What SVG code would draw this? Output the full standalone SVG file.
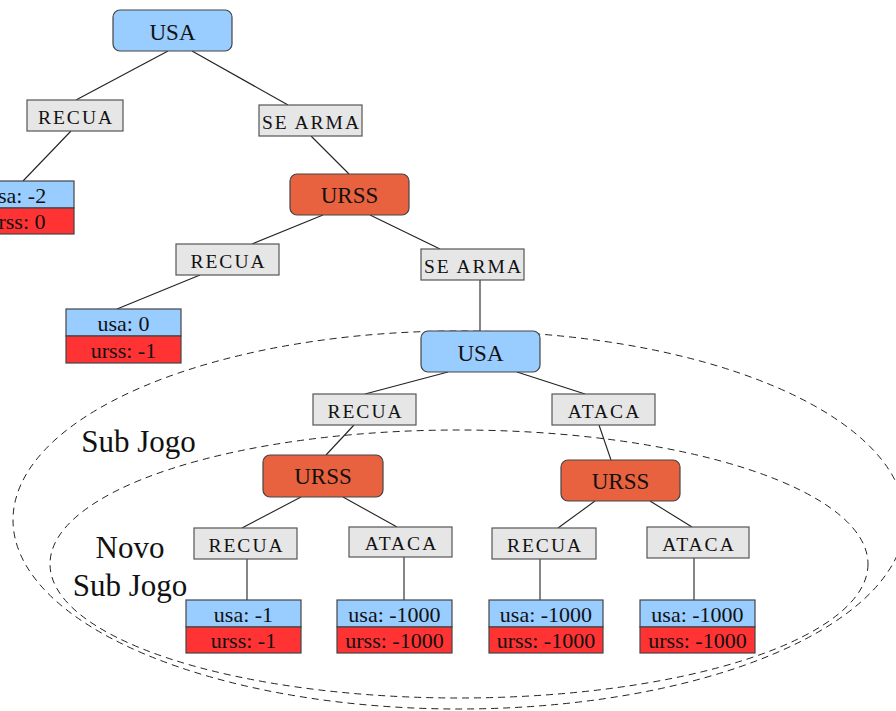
<svg xmlns="http://www.w3.org/2000/svg" width="896" height="711" viewBox="0 0 896 711">
<style>
text{font-family:"Liberation Serif","Times New Roman",serif;fill:#111;text-anchor:middle}
.pl{fill:#99CCFF;stroke:#444;stroke-width:1.2}
.pu{fill:#E9623F;stroke:#444;stroke-width:1.2}
.act{fill:#E6E6E6;stroke:#555;stroke-width:1.2}
.lb{fill:#99CCFF;stroke:#444;stroke-width:1.2}
.lr{fill:#FF3333;stroke:#444;stroke-width:1.2}
.nt{font-size:23px}
.at{font-size:19.5px;letter-spacing:2px}
.vt{font-size:22px}
.big{font-size:31px}
.conn line{stroke:#222;stroke-width:1.1}
.dash{fill:none;stroke:#222;stroke-width:1;stroke-dasharray:7 5}
</style>
<rect width="896" height="711" fill="#fff"/>
<g id="regions">
<ellipse class="dash" cx="459" cy="520" rx="446" ry="189"/>
<ellipse class="dash" cx="459" cy="564" rx="409" ry="134"/>
</g>
<g class="conn" id="connectors">
<line x1="168" y1="51" x2="76" y2="100"/>
<line x1="192" y1="51" x2="288" y2="105"/>
<line x1="71" y1="131" x2="23" y2="181"/>
<line x1="311" y1="136" x2="349" y2="174"/>
<line x1="323" y1="215" x2="252" y2="244"/>
<line x1="370" y1="215" x2="440" y2="249"/>
<line x1="200" y1="275" x2="117" y2="309"/>
<line x1="480" y1="280" x2="480" y2="331"/>
<line x1="448" y1="372" x2="365" y2="394"/>
<line x1="517" y1="372" x2="585" y2="394"/>
<line x1="354" y1="425" x2="326" y2="455"/>
<line x1="599" y1="425" x2="611" y2="460"/>
<line x1="301" y1="497" x2="242" y2="528"/>
<line x1="343" y1="497" x2="397" y2="527"/>
<line x1="595" y1="501" x2="558" y2="528"/>
<line x1="650" y1="501" x2="692" y2="527"/>
<line x1="247" y1="559" x2="247" y2="600"/>
<line x1="404" y1="557" x2="404" y2="600"/>
<line x1="540" y1="559" x2="540" y2="600"/>
<line x1="694" y1="558" x2="694" y2="600"/>
</g>
<g id="usa1"><rect class="pl" x="113" y="10" width="119" height="41" rx="7"/><text class="nt" x="172.5" y="40">USA</text></g>
<g id="recua1"><rect class="act" x="27" y="100" width="96" height="31"/><text class="at" x="76" y="124">RECUA</text></g>
<g id="searma1"><rect class="act" x="259" y="105" width="103" height="31"/><text class="at" x="311.5" y="129">SE ARMA</text></g>
<g id="leaf1"><rect class="lb" x="-41" y="181" width="115" height="27"/><rect class="lr" x="-41" y="208" width="115" height="26"/><text class="vt" x="16.5" y="203">usa: -2</text><text class="vt" x="16.5" y="229">urss: 0</text></g>
<g id="urss1"><rect class="pu" x="290" y="174" width="119" height="41" rx="7"/><text class="nt" x="349.5" y="203">URSS</text></g>
<g id="recua2"><rect class="act" x="176" y="244" width="103" height="31"/><text class="at" x="228.5" y="268">RECUA</text></g>
<g id="searma2"><rect class="act" x="421" y="249" width="103" height="31"/><text class="at" x="473.5" y="273">SE ARMA</text></g>
<g id="leaf2"><rect class="lb" x="66" y="309" width="115" height="27"/><rect class="lr" x="66" y="336" width="115" height="27"/><text class="vt" x="123.5" y="331">usa: 0</text><text class="vt" x="123.5" y="358">urss: -1</text></g>
<g id="usa2"><rect class="pl" x="421" y="331" width="119" height="41" rx="7"/><text class="nt" x="480.5" y="361">USA</text></g>
<g id="recua3"><rect class="act" x="313" y="394" width="103" height="31"/><text class="at" x="365.5" y="418">RECUA</text></g>
<g id="ataca1"><rect class="act" x="552" y="394" width="103" height="31"/><text class="at" x="604.5" y="418">ATACA</text></g>
<g id="urss2"><rect class="pu" x="263" y="455" width="120" height="42" rx="7"/><text class="nt" x="323" y="484">URSS</text></g>
<g id="urss3"><rect class="pu" x="561" y="460" width="119" height="41" rx="7"/><text class="nt" x="620.5" y="489">URSS</text></g>
<g id="recua4"><rect class="act" x="194" y="528" width="103" height="31"/><text class="at" x="246.5" y="552">RECUA</text></g>
<g id="ataca2"><rect class="act" x="349" y="527" width="103" height="30"/><text class="at" x="401.5" y="550">ATACA</text></g>
<g id="recua5"><rect class="act" x="492" y="528" width="104" height="31"/><text class="at" x="545" y="552">RECUA</text></g>
<g id="ataca3"><rect class="act" x="647" y="527" width="102" height="31"/><text class="at" x="699" y="551">ATACA</text></g>
<g id="leaf3"><rect class="lb" x="186" y="600" width="115" height="27"/><rect class="lr" x="186" y="627" width="115" height="26"/><text class="vt" x="243.5" y="622">usa: -1</text><text class="vt" x="243.5" y="648">urss: -1</text></g>
<g id="leaf4"><rect class="lb" x="337" y="600" width="115" height="27"/><rect class="lr" x="337" y="627" width="115" height="26"/><text class="vt" x="394.5" y="622">usa: -1000</text><text class="vt" x="394.5" y="648">urss: -1000</text></g>
<g id="leaf5"><rect class="lb" x="489" y="600" width="114" height="27"/><rect class="lr" x="489" y="627" width="114" height="26"/><text class="vt" x="546" y="622">usa: -1000</text><text class="vt" x="546" y="648">urss: -1000</text></g>
<g id="leaf6"><rect class="lb" x="640" y="600" width="115" height="27"/><rect class="lr" x="640" y="627" width="115" height="26"/><text class="vt" x="697.5" y="622">usa: -1000</text><text class="vt" x="697.5" y="648">urss: -1000</text></g>
<g id="labels">
<text class="big" x="138.5" y="452">Sub Jogo</text>
<text class="big" x="130" y="558">Novo</text>
<text class="big" x="130" y="596">Sub Jogo</text>
</g>
</svg>
